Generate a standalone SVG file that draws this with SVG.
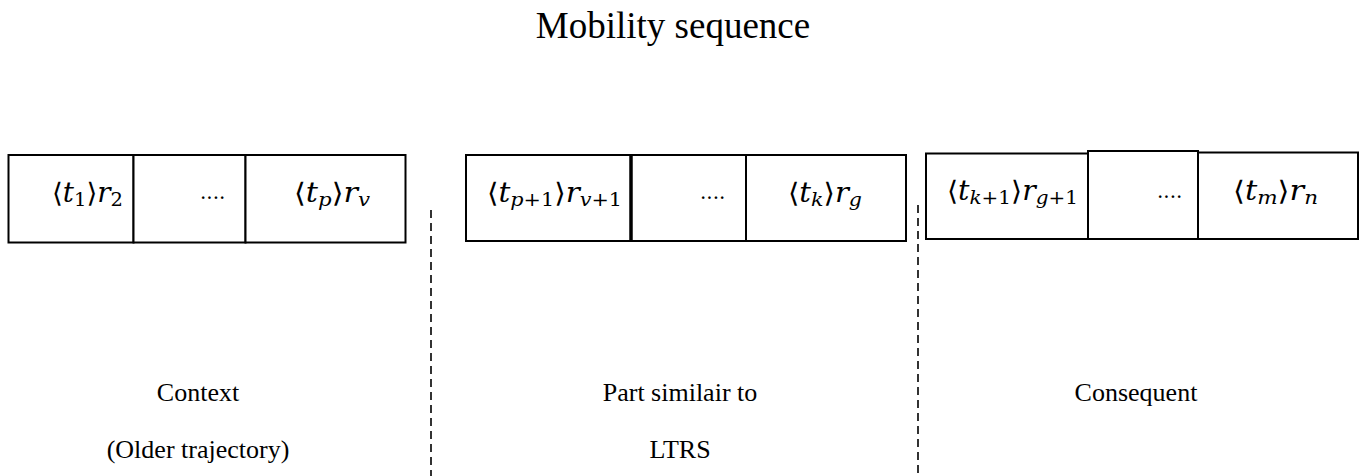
<svg xmlns="http://www.w3.org/2000/svg" width="1365" height="476" viewBox="0 0 1365 476">
  <style>
    .cell { fill: #ffffff; stroke: #000000; stroke-width: 2; }
    .sep { fill: none; stroke: #000000; stroke-width: 1.6; stroke-dasharray: 8 5; }
    .math { font-family: "DejaVu Serif", "Liberation Serif", serif; font-size: 27px; fill: #000000; }
    .math .v { font-style: italic; }
    .sub { font-size: 19px; }
    .dots { font-family: "DejaVu Serif", serif; font-size: 20px; fill: #000000; }
    .label { font-family: "Liberation Serif", serif; font-size: 26px; fill: #000000; text-anchor: middle; }
    .title { font-family: "Liberation Serif", serif; font-size: 37px; fill: #000000; text-anchor: middle; }
  </style>
  <rect width="1365" height="476" fill="#ffffff"/>

  <text class="title" x="673" y="38">Mobility sequence</text>

  <!-- dashed separators between the three parts -->
  <g id="connectors">
    <line class="sep" x1="431" y1="210" x2="431" y2="476"/>
    <line class="sep" x1="918" y1="205" x2="918" y2="476"/>
  </g>

  <!-- context part -->
  <g id="context">
    <rect class="cell" x="8.5" y="155" width="125" height="87.5"/>
    <rect class="cell" x="133.5" y="155" width="112" height="87.5"/>
    <rect class="cell" x="245.5" y="155" width="160" height="87.5"/>
    <text class="math" x="52" y="202" textLength="71" lengthAdjust="spacingAndGlyphs">⟨<tspan class="v">t</tspan><tspan class="sub" dy="4">1</tspan><tspan dy="-4">⟩</tspan><tspan class="v">r</tspan><tspan class="sub" dy="4">2</tspan></text>
    <text class="dots" x="200" y="199">....</text>
    <text class="math" x="294" y="202" textLength="76" lengthAdjust="spacingAndGlyphs">⟨<tspan class="v">t</tspan><tspan class="sub v" dy="4">p</tspan><tspan dy="-4">⟩</tspan><tspan class="v">r</tspan><tspan class="sub v" dy="4">v</tspan></text>
    <text class="label" x="198" y="401">Context</text>
    <text class="label" x="198" y="458">(Older trajectory)</text>
  </g>

  <!-- part similar to LTRS -->
  <g id="similar">
    <rect class="cell" x="466" y="155" width="165" height="86"/>
    <rect class="cell" x="631" y="155" width="115" height="86"/>
    <rect class="cell" x="746" y="155" width="160" height="86"/>
    <line x1="631" y1="155" x2="631" y2="241" stroke="#000000" stroke-width="3.5"/>
    <text class="math" x="487" y="202" textLength="135" lengthAdjust="spacingAndGlyphs">⟨<tspan class="v">t</tspan><tspan class="sub" dy="4"><tspan class="v">p</tspan>+1</tspan><tspan dy="-4">⟩</tspan><tspan class="v">r</tspan><tspan class="sub" dy="4"><tspan class="v">v</tspan>+1</tspan></text>
    <text class="dots" x="700" y="199">....</text>
    <text class="math" x="788" y="202" textLength="74" lengthAdjust="spacingAndGlyphs">⟨<tspan class="v">t</tspan><tspan class="sub v" dy="4">k</tspan><tspan dy="-4">⟩</tspan><tspan class="v">r</tspan><tspan class="sub v" dy="4">g</tspan></text>
    <text class="label" x="680" y="401">Part similair to</text>
    <text class="label" x="680" y="458">LTRS</text>
  </g>

  <!-- consequent part -->
  <g id="consequent">
    <rect class="cell" x="926" y="153.5" width="162" height="85.5"/>
    <rect class="cell" x="1088" y="151" width="110" height="88"/>
    <rect class="cell" x="1198" y="152.5" width="160" height="86.5"/>
    <text class="math" x="947" y="200" textLength="131" lengthAdjust="spacingAndGlyphs">⟨<tspan class="v">t</tspan><tspan class="sub" dy="4"><tspan class="v">k</tspan>+1</tspan><tspan dy="-4">⟩</tspan><tspan class="v">r</tspan><tspan class="sub" dy="4"><tspan class="v">g</tspan>+1</tspan></text>
    <text class="dots" x="1157" y="198">....</text>
    <text class="math" x="1233" y="200" textLength="85" lengthAdjust="spacingAndGlyphs">⟨<tspan class="v">t</tspan><tspan class="sub v" dy="4">m</tspan><tspan dy="-4">⟩</tspan><tspan class="v">r</tspan><tspan class="sub v" dy="4">n</tspan></text>
    <text class="label" x="1136" y="401">Consequent</text>
  </g>
</svg>
